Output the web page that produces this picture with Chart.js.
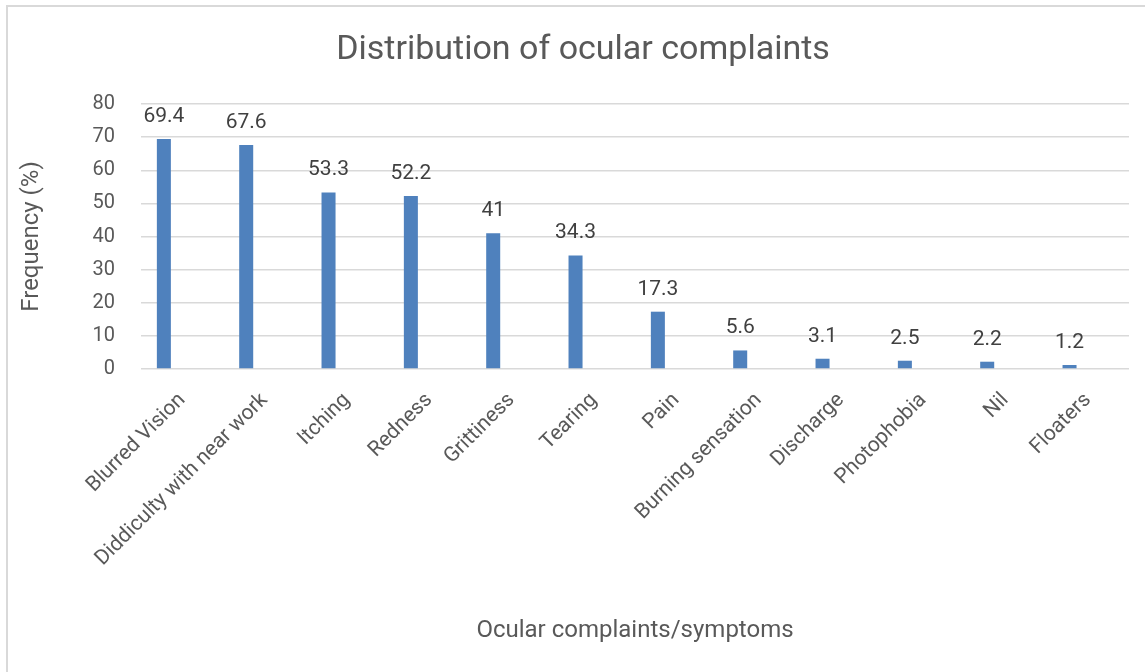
<!DOCTYPE html>
<html>
<head>
<meta charset="utf-8">
<script src="https://cdn.jsdelivr.net/npm/chart.js@4.4.1/dist/chart.umd.min.js"></script>
<style>
  html, body { margin: 0; padding: 0; background: #ffffff; }
  #wrap { position: relative; width: 1145px; height: 672px; overflow: hidden; }
  #frame { position: absolute; left: 6px; top: 5px; width: 1200px; height: 720px;
           border-top: 2px solid #d9d9d9; border-left: 2px solid #d9d9d9; box-sizing: border-box; }
  canvas { position: absolute; left: 0; top: 0; }
</style>
</head>
<body>
<div id="wrap">
  <div id="frame"></div>
  <canvas id="c" width="1145" height="672"></canvas>
</div>
<script>
// ---- data ----
const categories = ["Blurred Vision", "Diddiculty with near work", "Itching", "Redness", "Grittiness",
  "Tearing", "Pain", "Burning sensation", "Discharge", "Photophobia", "Nil", "Floaters"];
const frequency = [69.4, 67.6, 53.3, 52.2, 41, 34.3, 17.3, 5.6, 3.1, 2.5, 2.2, 1.2];
// the source chart holds a second, empty series (no values) that shifts the bars left in each slot
const emptySeries = [null, null, null, null, null, null, null, null, null, null, null, null];
const yTicks = [0, 10, 20, 30, 40, 50, 60, 70, 80];
const chartTitle = "Distribution of ocular complaints";

const TXT = "#595959";
const FONT = "Roboto";

const dataLabels = {
  id: "dataLabels",
  afterDatasetsDraw(chart) {
    const ctx = chart.ctx;
    const meta = chart.getDatasetMeta(0);
    ctx.save();
    ctx.font = "21px " + FONT;
    ctx.fillStyle = "#404040";
    ctx.textAlign = "center";
    ctx.textBaseline = "alphabetic";
    meta.data.forEach((bar, i) => {
      ctx.fillText(String(frequency[i]), bar.x, bar.y - 17);
    });
    ctx.restore();
  }
};

const titleDraw = {
  id: "titleDraw",
  afterDraw(chart) {
    const ctx = chart.ctx;
    ctx.save();
    ctx.font = "34px " + FONT;
    ctx.fillStyle = TXT;
    ctx.textAlign = "center";
    ctx.textBaseline = "middle";
    ctx.fillText(chartTitle, (21 + chart.width) / 2, 50);
    ctx.restore();
  }
};

new Chart(document.getElementById("c"), {
  type: "bar",
  data: {
    labels: categories,
    datasets: [
      { label: "Frequency (%)", data: frequency, backgroundColor: "#4f81bd",
        categoryPercentage: 0.889, barPercentage: 0.383 },
      { label: "", data: emptySeries, backgroundColor: "#4f81bd",
        categoryPercentage: 0.889, barPercentage: 0.383 }
    ]
  },
  options: {
    responsive: false,
    animation: false,
    layout: { padding: { left: 0, right: 16, top: 104, bottom: 0 } },
    plugins: {
      legend: { display: false },
      tooltip: { enabled: false },
      title: { display: false }
    },
    scales: {
      x: {
        grid: { display: false, drawTicks: false },
        border: { display: false },
        ticks: {
          color: TXT, font: { family: FONT, size: 21 },
          minRotation: 45, maxRotation: 45, autoSkip: false, padding: 19
        },
        title: {
          display: true, text: "Ocular complaints/symptoms", color: TXT,
          font: { family: FONT, size: 24 }, padding: { top: 0, bottom: 27 }
        },
        afterFit(scale) { scale.height = 672 - 369 - 0; }
      },
      y: {
        min: 0, max: 80,
        afterBuildTicks(scale) { scale.ticks = yTicks.map(v => ({ value: v })); },
        grid: { color: "#d9d9d9", lineWidth: 1.5, drawTicks: false },
        border: { display: false },
        ticks: { color: TXT, font: { family: FONT, size: 20 }, padding: 26 },
        title: {
          display: true, text: "Frequency (%)", color: TXT,
          font: { family: FONT, size: 24 }, padding: { top: 18, bottom: 0 }
        },
        afterFit(scale) { scale.width = 141; }
      }
    }
  },
  plugins: [dataLabels, titleDraw]
});
</script>
</body>
</html>
